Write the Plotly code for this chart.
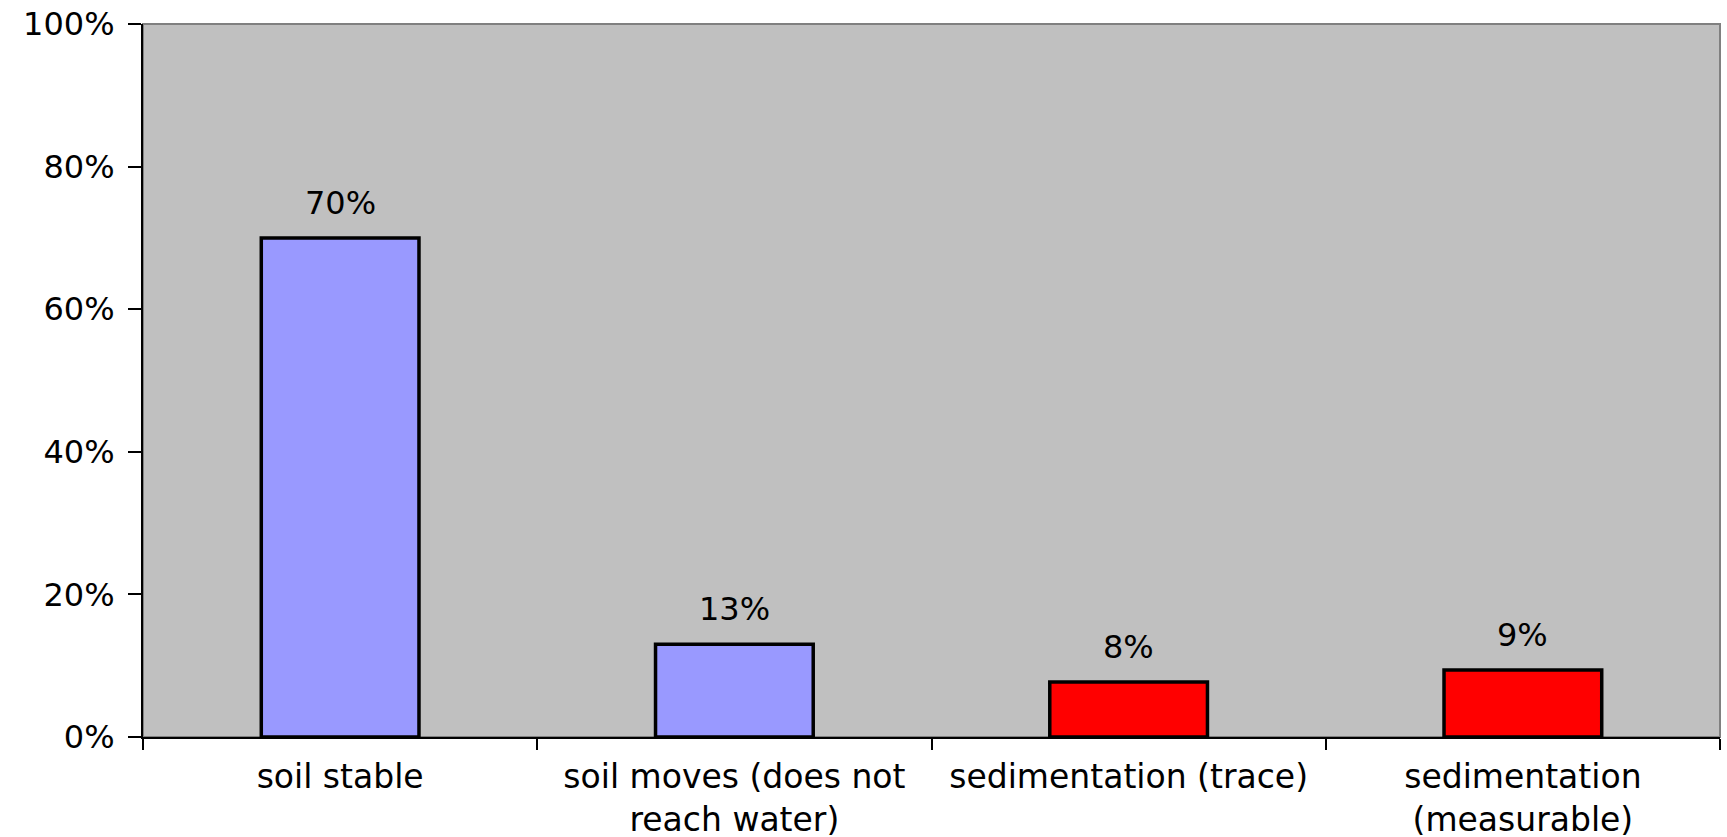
import plotly.graph_objects as go

categories = [
    "soil stable",
    "soil moves (does not<br>reach water)",
    "sedimentation (trace)",
    "sedimentation<br>(measurable)",
]
values = [70, 13, 7.7, 9.4]
bar_colors = ["#9999FF", "#9999FF", "#FF0000", "#FF0000"]
y_ticks = [0, 20, 40, 60, 80, 100]
y_tick_labels = [f"{t}%" for t in y_ticks]

FAMILY = "DejaVu Sans, Arial, sans-serif"
FONT = dict(family=FAMILY, size=32, color="#000000")
CAT_FONT = dict(family=FAMILY, size=33, color="#000000")

fig = go.Figure(
    go.Bar(
        x=categories,
        y=values,
        width=0.4,
        marker=dict(color=bar_colors, line=dict(color="#000000", width=3.5)),
        hoverinfo="skip",
    )
)

# value labels above each bar
for cat, val in zip(categories, values):
    fig.add_annotation(
        x=cat, y=val, text=f"{val:.0f}%", showarrow=False,
        xref="x", yref="y", yanchor="bottom", yshift=14, font=FONT,
    )

# grey frame on the top and right of the plot area
fig.add_shape(
    type="rect", xref="paper", yref="paper", x0=0, x1=1, y0=0, y1=1,
    line=dict(color="#808080", width=2), layer="below",
)

fig.update_layout(
    width=1727,
    height=837,
    margin=dict(l=143, r=7, t=24, b=100),
    paper_bgcolor="#FFFFFF",
    plot_bgcolor="#C0C0C0",
    font=FONT,
    showlegend=False,
)

fig.update_xaxes(
    showgrid=False, automargin=False,
    showline=True, linecolor="#000000", linewidth=2,
    ticks="outside", tickson="boundaries", ticklen=11, tickwidth=2, tickcolor="#000000",
    tickfont=CAT_FONT,
    ticklabelstandoff=9,
)

fig.update_yaxes(
    range=[0, 100], automargin=False,
    tickvals=y_ticks, ticktext=y_tick_labels,
    showgrid=False, zeroline=False,
    showline=True, linecolor="#000000", linewidth=2,
    ticks="outside", ticklen=13, tickwidth=2, tickcolor="#000000",
    tickfont=FONT,
    ticklabelstandoff=7,
)

fig.write_html("out.html")
